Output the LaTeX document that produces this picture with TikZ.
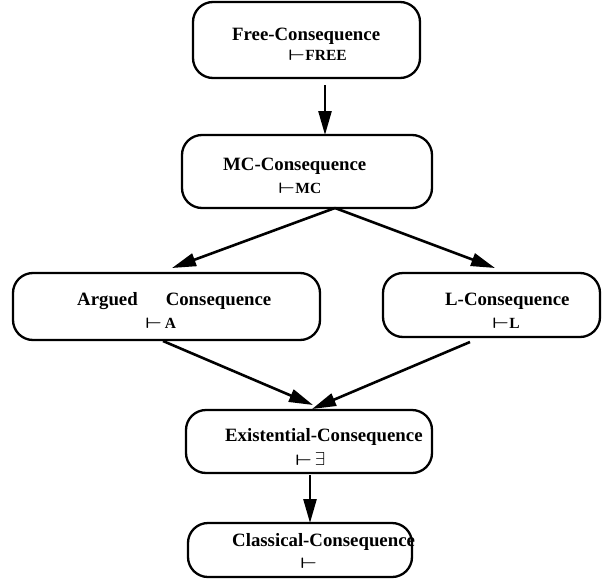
\documentclass[tikz,border=0pt]{standalone}
\usepackage{fontspec}
\usepackage{graphicx}
\setmainfont{Liberation Serif}
\usetikzlibrary{arrows.meta}
\newcommand{\turn}{\scalebox{1.7}[1.05]{\boldmath$\vdash$}}
\newcommand{\exsym}{\,\scalebox{1.3}{$\exists$}}
\begin{document}
\begin{tikzpicture}[x=1pt,y=-1pt,
  box/.style={draw, line width=2.3pt, rounded corners=20pt, inner sep=0pt},
  lbl/.style={anchor=base west, inner sep=0pt, font=\fontsize{18.8}{22}\selectfont\bfseries},
  sub/.style={anchor=base west, inner sep=0pt, font=\fontsize{15.5}{18}\selectfont\bfseries},
  conn/.style={line width=2.6pt, -{Triangle[length=24pt,width=13pt]}}]
\useasboundingbox (0,0) rectangle (605,581);
% boxes
\node[box, minimum width=227pt, minimum height=76pt] (free) at (306.5,40) {};
\node[box, minimum width=250pt, minimum height=73pt] (mc) at (307,171.5) {};
\node[box, minimum width=307pt, minimum height=67pt] (arg) at (166.5,306.5) {};
\node[box, minimum width=217pt, minimum height=64pt] (lcon) at (491.5,305) {};
\node[box, minimum width=246pt, minimum height=63pt] (ex) at (309,441.5) {};
\node[box, minimum width=224pt, minimum height=54pt] (cl) at (300,550) {};
% texts
\node[lbl] (freet) at (232,40) {Free-Consequence};
\node[sub] (frees) at (288,60) {\turn FREE};
\node[lbl] (mct) at (223,170) {MC-Consequence};
\node[sub] (mcs) at (278,193) {\turn MC};
\node[lbl] (argt) at (77,305) {Argued\hspace{28pt}Consequence};
\node[sub] (args) at (145,328) {\turn\,A};
\node[lbl] (lt) at (445,305) {L-Consequence};
\node[sub] (ls) at (492,328) {\turn L};
\node[lbl] (ext) at (225,441) {Existential-Consequence};
\node[sub] (exs) at (295,465) {\turn\exsym};
\node[lbl] (clt) at (232,546) {Classical-Consequence};
\node[sub] (cls) at (300,568) {\turn};
% connector end points
\coordinate (a1s) at (325,85);
\coordinate (a1e) at (325,135);
\coordinate (a2s) at (335,208);
\coordinate (a2e) at (172,268);
\coordinate (a3e) at (495,268);
\coordinate (a4s) at (163,341);
\coordinate (a4e) at (313,405);
\coordinate (a5s) at (470,342);
\coordinate (a5e) at (312,409);
\coordinate (a6s) at (310,475);
\coordinate (a6e) at (310,523);
\draw[conn] (a1s) -- (a1e);
\draw[conn] (a2s) -- (a2e);
\draw[conn] (a2s) -- (a3e);
\draw[conn] (a4s) -- (a4e);
\draw[conn] (a5s) -- (a5e);
\draw[conn] (a6s) -- (a6e);
\end{tikzpicture}
\end{document}
